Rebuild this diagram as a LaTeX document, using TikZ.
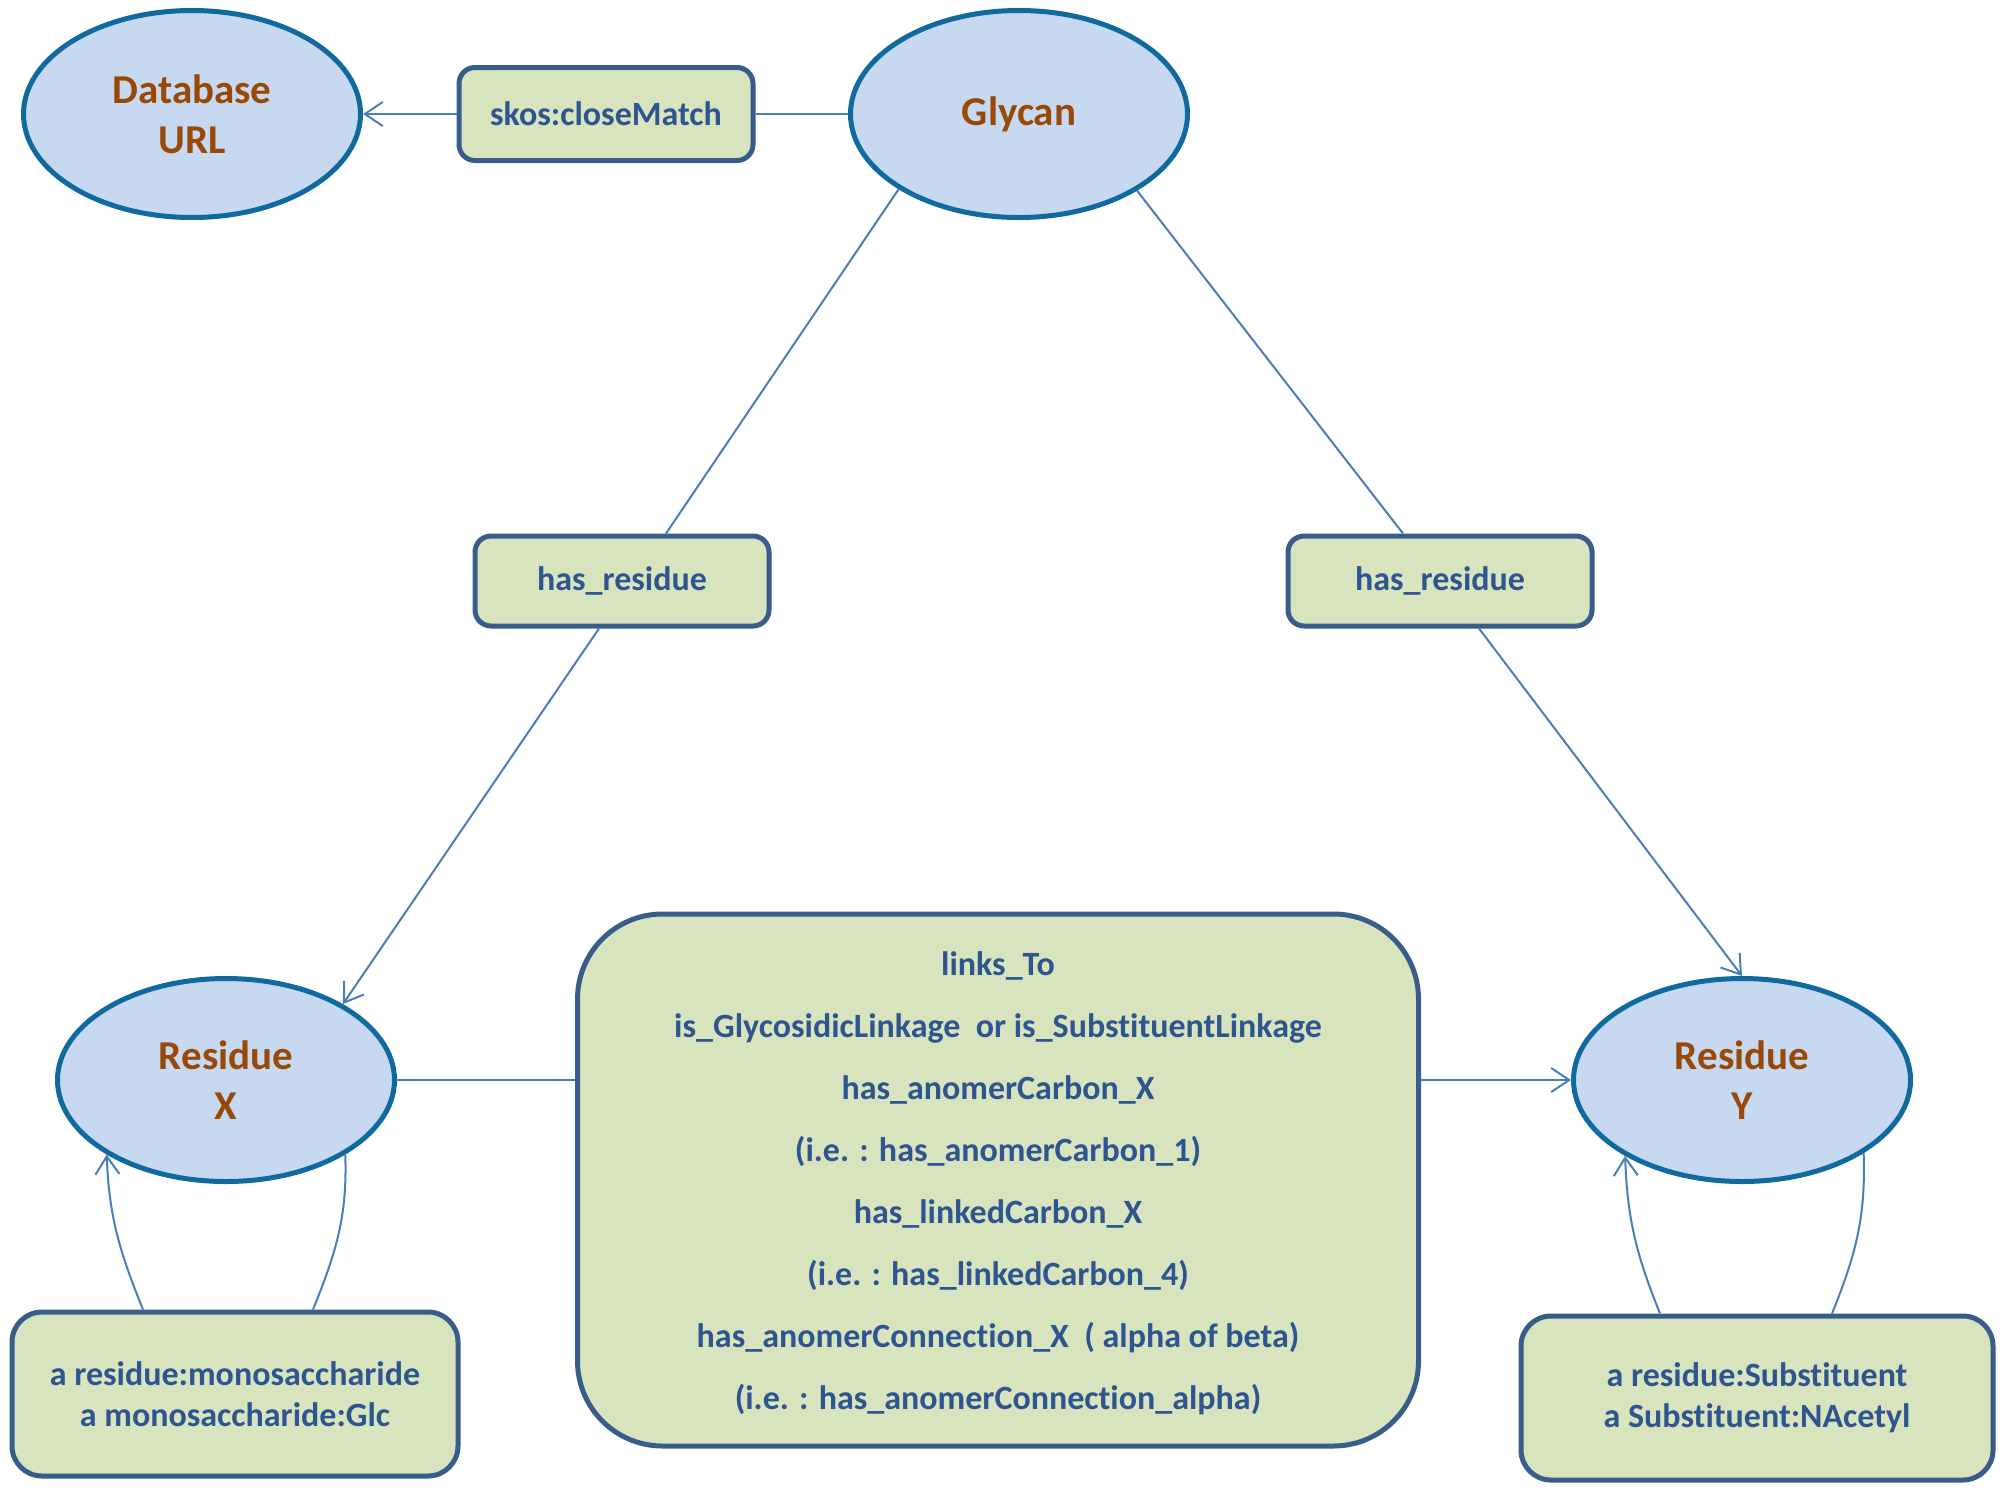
\documentclass[tikz,border=0pt]{standalone}
\usepackage{fontspec}
\setmainfont{Carlito}[RawFeature={-liga,-clig,-dlig}]
\usetikzlibrary{shapes.geometric,arrows.meta,calc}
\definecolor{ellfill}{HTML}{C6D9F1}
\definecolor{elldraw}{HTML}{10699F}
\definecolor{boxfill}{HTML}{D7E4BD}
\definecolor{boxdraw}{HTML}{385D8A}
\definecolor{txtblue}{HTML}{2E5590}
\definecolor{txtbrown}{HTML}{984807}
\definecolor{connc}{HTML}{4A7EBB}
\begin{document}
\begin{tikzpicture}[x=1pt,y=1pt,
  ell/.style={ellipse, fill=ellfill, draw=elldraw, line width=5pt, inner sep=0pt,
    minimum width=337pt, minimum height=207pt, align=center, text=txtbrown,
    font=\bfseries\fontsize{41}{50}\selectfont},
  lbox/.style={rectangle, rounded corners=16pt, fill=boxfill, draw=boxdraw, line width=5pt,
    inner sep=0pt, align=center, text=txtblue, font=\bfseries\fontsize{34}{41}\selectfont},
  conn/.style={draw=connc, line width=2pt},
  arr/.style={conn, -{Straight Barb[length=18pt,width=24pt]}},
]
\fill[white] (0,0) rectangle (2004,-1492);
\useasboundingbox (0,0) rectangle (2004,-1492);

\node[ell] (db) at (192,-114) {Database\\URL};
\node[ell] (glycan) at (1019,-114) {\raisebox{-4pt}{Glycan}};
\node[lbox, minimum width=294pt, minimum height=93pt] (skos) at (606,-114) {\raisebox{-2pt}{skos:closeMatch}};
\node[lbox, minimum width=294pt, minimum height=90pt] (hr1) at (622,-581) {\raisebox{-3pt}{has\_residue}};
\node[lbox, minimum width=304pt, minimum height=90pt] (hr2) at (1440,-581) {\raisebox{-3pt}{has\_residue}};
\node[ell, minimum height=203pt] (resX) at (226,-1080) {Residue\\X};
\node[ell, minimum height=203pt] (resY) at (1742,-1080) {Residue\\Y};
\node[lbox, rounded corners=85pt, minimum width=841pt, minimum height=532pt,
  font=\bfseries\fontsize{34}{62}\selectfont] (big) at (998,-1180)
  {\raisebox{-6pt}{\begin{tabular}{@{}c@{}}
   links\_To\\
   is\_GlycosidicLinkage\ \ or is\_SubstituentLinkage\\
   has\_anomerCarbon\_X\\
   (i.e. : has\_anomerCarbon\_1)\\
   has\_linkedCarbon\_X\\
   (i.e. : has\_linkedCarbon\_4)\\
   has\_anomerConnection\_X\ \ ( alpha of beta)\\
   (i.e. : has\_anomerConnection\_alpha)\end{tabular}}};
\node[lbox, rounded corners=30pt, minimum width=446pt, minimum height=164pt] (bl) at (235,-1394)
  {a residue:monosaccharide\\a monosaccharide:Glc};
\node[lbox, rounded corners=30pt, minimum width=472pt, minimum height=164pt] (br) at (1757,-1398)
  {a residue:Substituent\\a Substituent:NAcetyl};

\draw[conn] (glycan.west) -- (skos.east);
\draw[arr] (skos.west) -- (db.east);

\draw[conn] (glycan.212.5) -- ([xshift=44pt]hr1.north);
\draw[arr] ([xshift=-23pt]hr1.south) -- (resX.33);
\draw[conn] (glycan.327) -- ([xshift=-37pt]hr2.north);
\draw[arr] ([xshift=39pt]hr2.south) -- (resY.north);

\draw[conn] (resX.east) -- (resX.east -| big.west);
\draw[arr] (big.east |- resY.west) -- (resY.west);

\draw[arr] ([xshift=-92pt]bl.north) to[out=112,in=-88] (resX.212.7);
\draw[conn] (resX.-32) to[out=-88,in=68] ([xshift=78pt]bl.north);
\draw[arr] ([xshift=-97pt]br.north) to[out=112,in=-88] (resY.213);
\draw[conn] (resY.-31.6) to[out=-88,in=68] ([xshift=75pt]br.north);
\end{tikzpicture}
\end{document}
